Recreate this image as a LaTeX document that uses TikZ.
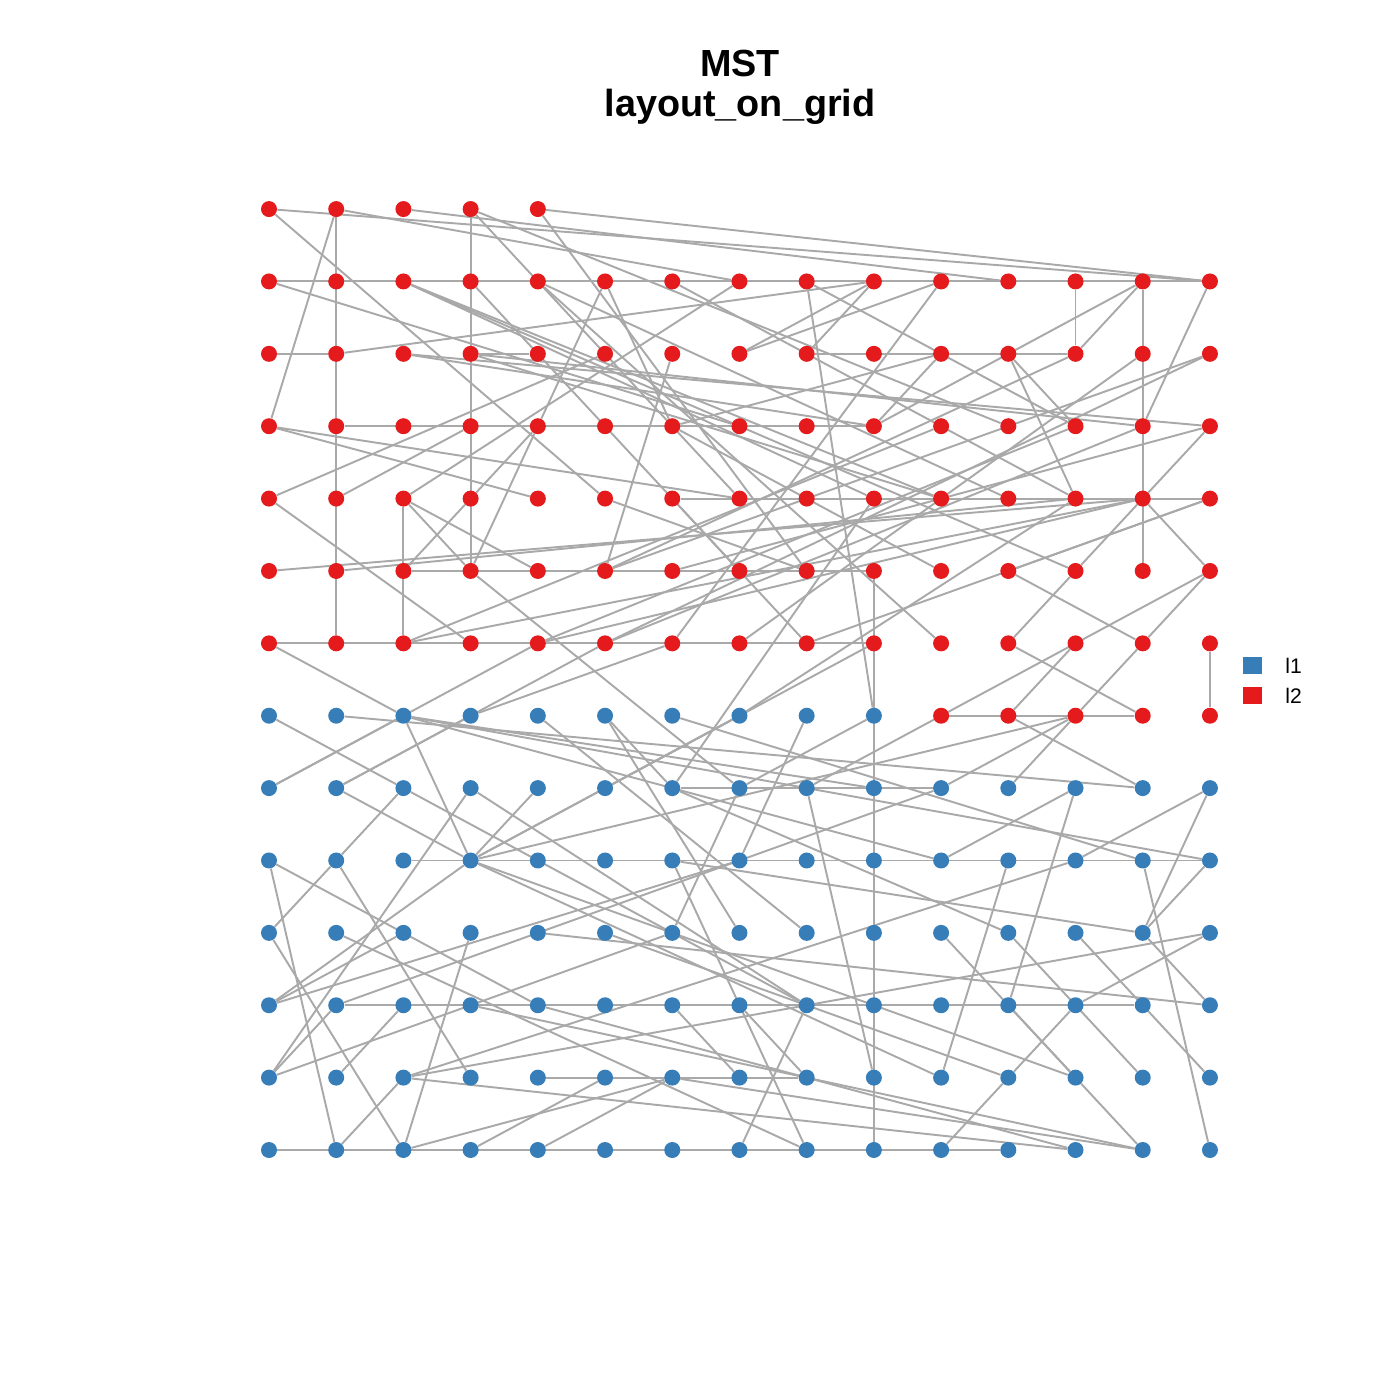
\documentclass[tikz,border=0pt]{standalone}
\usepackage{fontspec}
\setmainfont{Liberation Sans}
\usetikzlibrary{backgrounds}
\definecolor{mstBlue}{HTML}{377EB8}
\definecolor{mstRed}{HTML}{E41A1C}
\definecolor{mstGray}{HTML}{A9A9A9}
\tikzset{
  mst vertex/.style={circle, draw=none, inner sep=0pt, minimum size=0.32cm},
  mst edge/.style={draw=mstGray, line width=1.1pt},
  mst title/.style={font=\fontsize{21.5}{23}\selectfont\bfseries, anchor=base},
  mst key/.style={draw=none, minimum width=0.38cm, minimum height=0.34cm, inner sep=0pt},
  mst key label/.style={font=\fontsize{12}{14}\selectfont, anchor=base west, inner sep=0pt},
}

\begin{document}
\begin{tikzpicture}[x=0.02cm, y=-0.02cm]
  \useasboundingbox (0,0) rectangle (1400,1400);

  % title
  \node[mst title] (title1) at (740,76) {MST};
  \node[mst title] (title2) at (740,116) {layout\_on\_grid};

  % vertices: 15 per row, filled from the bottom row up
  \foreach \r in {0,...,13} {
    \foreach \c in {0,...,14} {
      \pgfmathtruncatemacro\idx{15*\r+\c}
      \ifnum\idx<200
        \ifnum\idx<100 \def\vcol{mstBlue}\else\def\vcol{mstRed}\fi
        \node[mst vertex, fill=\vcol] (v\c-\r) at (269+67.21*\c, 1150-72.38*\r) {};
      \fi
    }
  }

  % tree edges
  \begin{pgfonlayer}{background}
    % along rows and columns
    \foreach \a/\b/\p/\q in {0/12/14/12, 0/11/1/11, 3/11/4/11, 8/11/12/11,
        1/10/9/10, 6/9/14/9, 2/8/9/8, 0/7/9/7, 10/6/13/6, 6/5/10/5,
        2/4/14/4, 1/2/13/2, 4/1/8/1, 0/0/11/0,
        1/13/1/7, 3/13/3/8, 2/9/2/7, 9/8/9/0, 14/7/14/6, 13/12/13/8, 12/12/12/11}
      \draw[mst edge] (v\a-\b) -- (v\p-\q);
    % red part
    \foreach \a/\b/\p/\q in {0/13/14/12, 0/13/5/9, 1/13/0/10, 1/13/7/12, 2/13/11/12,
        3/13/7/9, 3/13/11/10, 4/13/14/12, 4/13/8/8, 0/12/7/10, 2/12/10/9,
        2/12/12/8, 3/12/7/8, 4/12/10/7, 1/11/9/12, 2/11/14/10, 2/11/9/10,
        3/11/13/10, 3/11/10/9, 0/9/5/11, 0/9/3/7, 1/9/3/10, 2/9/3/8, 2/9/4/8,
        3/9/2/8, 4/10/3/9, 4/10/3/8, 0/10/4/9, 0/10/7/9, 0/8/13/9, 1/8/12/9,
        0/7/2/6, 2/7/10/10, 2/7/13/9, 3/8/7/5, 10/12/6/7, 10/12/7/11,
        6/9/8/7, 5/9/8/8, 13/9/14/10, 13/9/12/8, 13/9/14/8, 14/8/13/7,
        11/8/13/7, 11/8/14/9, 12/8/11/7, 11/7/13/6, 12/7/11/6, 12/6/13/7,
        14/12/13/10, 12/11/13/12, 12/11/5/8, 13/12/9/10, 10/11/6/10,
        11/11/12/9, 11/11/12/10, 5/7/14/11, 5/7/13/10, 6/8/14/10, 7/7/13/11,
        8/7/14/9, 4/7/13/9, 8/12/9/6, 8/12/12/10, 9/12/8/11, 5/12/4/10,
        5/12/6/10, 6/12/12/9, 7/12/2/9, 6/11/5/8, 9/10/10/11, 2/12/9/9,
        4/12/11/9, 9/12/7/11, 5/8/14/11, 4/7/12/10, 10/8/6/10}
      \draw[mst edge] (v\a-\b) -- (v\p-\q);
    % blue part
    \foreach \a/\b/\p/\q in {0/6/2/5, 1/6/13/5, 2/6/3/4, 2/6/0/5, 2/6/9/5,
        2/6/14/4, 3/6/1/5, 3/6/6/7, 1/5/5/7, 1/5/3/4, 2/5/1/4, 2/5/8/2,
        0/4/1/0, 0/4/4/2, 1/4/0/3, 1/4/3/1, 4/6/8/3, 3/4/7/6, 3/4/9/7,
        3/4/12/6, 3/4/10/1, 3/4/12/1, 5/6/6/5, 5/6/7/3, 6/6/13/4, 7/6/5/5,
        8/6/7/4, 9/6/7/5, 7/5/6/3, 6/5/11/3, 8/5/9/1, 0/3/2/0, 0/2/2/3,
        0/1/3/5, 0/1/1/2, 0/1/6/3, 2/1/14/3, 2/1/12/4, 2/1/1/0, 2/0/3/3,
        2/0/6/1, 3/0/5/1, 4/0/6/1, 7/0/8/2, 8/0/6/4, 7/2/8/1, 6/2/7/1,
        14/3/12/2, 13/3/14/2, 10/3/12/1, 11/3/13/1, 11/2/12/1, 12/2/11/1,
        11/1/10/0, 12/1/13/0, 10/1/11/4, 13/4/14/0, 14/5/12/4, 14/5/13/3,
        14/4/13/3, 12/5/11/2, 10/4/12/5, 10/5/12/6, 11/6/13/5, 12/6/11/5,
        6/1/13/0, 2/1/12/0, 0/2/3/4, 2/6/10/4, 0/2/7/4, 1/2/10/5, 1/3/8/0,
        3/2/13/0, 4/2/12/0, 6/4/13/3, 3/5/8/2, 4/3/14/2, 0/5/4/7, 6/5/9/9,
        7/6/12/9, 8/5/14/8, 12/3/14/1, 5/3/11/1, 4/5/3/4, 1/1/2/2}
      \draw[mst edge] (v\a-\b) -- (v\p-\q);
  \end{pgfonlayer}

  % legend
  \node[mst key, fill=mstBlue] (key1) at (1252,665) {};
  \node[mst key, fill=mstRed] (key2) at (1252,695) {};
  \node[mst key label] (lab1) at (1285,673) {l1};
  \node[mst key label] (lab2) at (1285,703) {l2};
\end{tikzpicture}
\end{document}
